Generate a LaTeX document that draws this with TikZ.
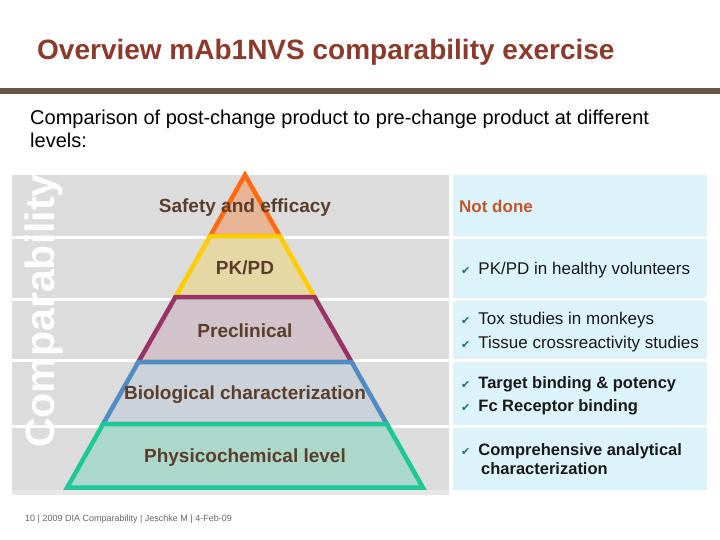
\documentclass[tikz,border=0pt]{standalone}
\usepackage{fontspec}
\setmainfont{Liberation Sans}
\newfontfamily\symfont{DejaVu Sans}
\usepackage{tikz}
\usetikzlibrary{positioning}
\definecolor{titleRed}{HTML}{8C3A2B}
\definecolor{ruleBrown}{HTML}{6B5645}
\definecolor{panelGrey}{HTML}{DCDCDC}
\definecolor{panelBlue}{HTML}{DDF3FA}
\definecolor{pyrText}{HTML}{5A3E2B}
\definecolor{notDone}{HTML}{C0562E}
\definecolor{chkTeal}{HTML}{1F6E6E}
\definecolor{footGrey}{HTML}{666666}
\definecolor{tierOrange}{HTML}{FF6A13}
\definecolor{tierYellow}{HTML}{FFCC00}
\definecolor{tierPlum}{HTML}{993366}
\definecolor{tierBlue}{HTML}{4F8CC4}
\definecolor{tierGreen}{HTML}{1CC896}
\newcommand{\okmark}{{\symfont\color{chkTeal}\fontsize{11}{11}\selectfont ✔}\hspace{8pt}}

\begin{document}
\begin{tikzpicture}[x=1pt, y=-1pt,
  rowgrey/.style={fill=panelGrey, draw=none},
  rowblue/.style={fill=panelBlue, draw=none},
  tier/.style={line width=4.5pt, line join=miter},
  tierlbl/.style={inner sep=0pt, font=\fontsize{19}{21}\selectfont\bfseries,
    text=pyrText, text height=13.6pt, text depth=0pt},
  item/.style={anchor=west, inner sep=0pt, font=\fontsize{17}{19}\selectfont,
    text=black!90, text height=12.2pt, text depth=0pt}]

\useasboundingbox[fill=white] (0,0) rectangle (720,540);

% heading
\node[anchor=base west, inner sep=0pt, font=\fontsize{28}{30}\selectfont\bfseries,
  text=titleRed] (title) at (37,60) {Overview mAb1NVS comparability exercise};
\fill[ruleBrown] (0,88) rectangle (720,94);
\node[anchor=base west, inner sep=0pt, font=\fontsize{20}{23}\selectfont] (intro1)
  at (30,125) {Comparison of post-change product to pre-change product at different};
\node[anchor=base west, inner sep=0pt, font=\fontsize{20}{23}\selectfont] (intro2)
  at (30,148) {levels:};

% panels
\fill[rowgrey] (12,175) rectangle (449,236);
\fill[rowgrey] (12,239) rectangle (449,297.5);
\fill[rowgrey] (12,300.5) rectangle (449,359);
\fill[rowgrey] (12,362) rectangle (449,425);
\fill[rowgrey] (12,428) rectangle (449,490);
\fill[panelGrey!70!white] (12,490) rectangle (449,495);
\fill[rowblue] (453,175) rectangle (707,236);
\fill[rowblue] (453,239) rectangle (707,297.5);
\fill[rowblue] (453,300.5) rectangle (707,359);
\fill[rowblue] (453,362) rectangle (707,425);
\fill[rowblue] (453,428) rectangle (707,490);

\node[rotate=90, inner sep=0pt, font=\fontsize{41}{43}\selectfont\bfseries,
  text=white!95!panelGrey, text height=29.4pt, text depth=0pt] (axis)
  at (39.5,311) {Comparability};

% pyramid
\draw[tier, draw=tierOrange, fill=tierOrange!35!panelGrey]
  (245,175) -- (279.8,236) -- (210.2,236) -- cycle;
\draw[tier, draw=tierYellow, fill=tierYellow!25!panelGrey]
  (210.2,236) -- (279.8,236) -- (314.5,297) -- (175.5,297) -- cycle;
\draw[tier, draw=tierPlum, fill=tierPlum!15!panelGrey]
  (175.5,297) -- (314.5,297) -- (351.6,362) -- (138.4,362) -- cycle;
\draw[tier, draw=tierBlue, fill=tierBlue!12!panelGrey]
  (138.4,362) -- (351.6,362) -- (386.9,424) -- (103.1,424) -- cycle;
\draw[tier, draw=tierGreen, fill=tierGreen!25!panelGrey]
  (103.1,424) -- (386.9,424) -- (422.8,487.5) -- (67.2,487.5) -- cycle;

\node[tierlbl] (safety) at (245,206) {Safety and efficacy};
\node[tierlbl] (pkpd)   at (245,268) {PK/PD};
\node[tierlbl] (precl)  at (245,331) {Preclinical};
\node[tierlbl] (bio)    at (245,393) {Biological characterization};
\node[tierlbl] (phys)   at (245,456) {Physicochemical level};

% outcomes
\node[item, font=\fontsize{17}{19}\selectfont\bfseries, text=notDone] (notdone)
  at (459,206) {Not done};
\node[item] (pkvol)  at (461,268) {\okmark PK/PD in healthy volunteers};
\node[item] (tox)    at (461,318) {\okmark Tox studies in monkeys};
\node[item] (tcr)    at (461,342) {\okmark Tissue crossreactivity studies};
\node[item, font=\fontsize{16.5}{18}\selectfont\bfseries] (target) at (461,382)
  {\okmark Target binding \& potency};
\node[item, font=\fontsize{16.5}{18}\selectfont\bfseries] (fcr) at (461,405)
  {\okmark Fc Receptor binding};
\node[item, font=\fontsize{16.5}{18}\selectfont\bfseries] (anal) at (461,449)
  {\okmark Comprehensive analytical};
\node[item, font=\fontsize{16.5}{18}\selectfont\bfseries] (charz) at (481,468)
  {characterization};

% footer
\node[anchor=west, inner sep=0pt, font=\fontsize{9}{10}\selectfont, text=footGrey]
  (foot) at (25,519) {10 | 2009 DIA Comparability | Jeschke M | 4-Feb-09};
\end{tikzpicture}
\end{document}
